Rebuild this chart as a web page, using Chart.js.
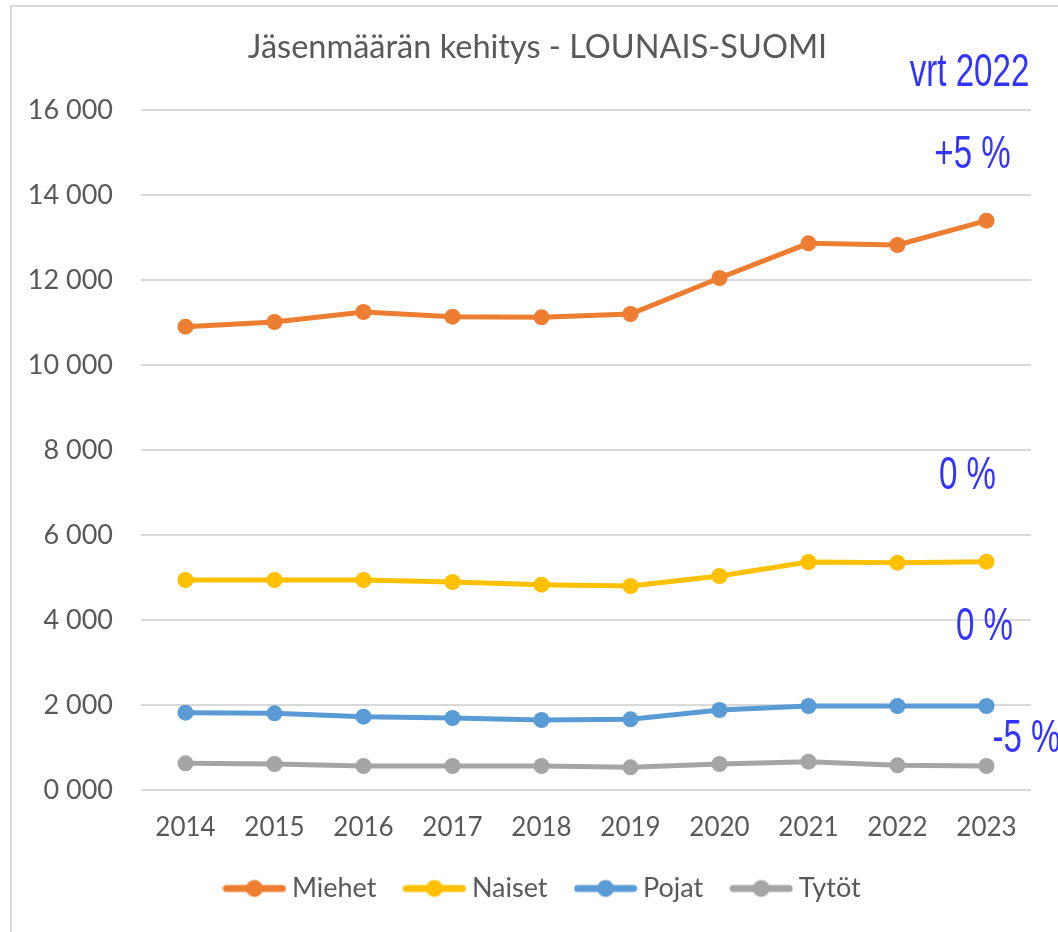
<!DOCTYPE html>
<html><head><meta charset="utf-8">
<script src="https://cdn.jsdelivr.net/npm/chart.js@4/dist/chart.umd.min.js"></script>
<style>
html,body{margin:0;padding:0;background:#fff;overflow:hidden;}
#wrap{position:absolute;left:0;top:0;width:1058px;height:932px;overflow:hidden;}
#frame{position:absolute;left:10px;top:5px;width:1200px;height:1200px;border:2px solid #d9d9d9;box-sizing:border-box;}
canvas{position:absolute;left:0;top:0;}
</style></head><body>
<div id="wrap"><div id="frame"></div><canvas id="c" width="1058" height="932"></canvas></div>
<script>
const categories = ['2014','2015','2016','2017','2018','2019','2020','2021','2022','2023'];
const miehet = [10902, 11012, 11247, 11137, 11122, 11200, 12047, 12863, 12824, 13396];
const naiset = [4941, 4941, 4941, 4894, 4831, 4800, 5035, 5365, 5349, 5373];
const pojat  = [1819, 1804, 1725, 1694, 1647, 1663, 1882, 1976, 1976, 1976];
const tytot  = [627, 612, 565, 565, 565, 533, 612, 667, 580, 565];
const yTickLabels = ['0 000','2 000','4 000','6 000','8 000','10 000','12 000','14 000','16 000'];
const seriesNames = ['Miehet','Naiset','Pojat','Tytöt'];
const titleText = 'Jäsenmäärän kehitys - LOUNAIS-SUOMI';
const noteTexts = ['vrt 2022','+5 %','0 %','0 %','-5 %'];
const noteValues = [16941, 15012, 7459, 3906, 1271];

const colors = ['#ED7D31','#FFC000','#5B9BD5','#A5A5A5'];
const seriesData = [miehet, naiset, pojat, tytot];

function makeLegendImg(color){
  const c = document.createElement('canvas'); c.width = 64; c.height = 20;
  const g = c.getContext('2d');
  g.strokeStyle = color; g.lineWidth = 7; g.lineCap = 'round';
  g.beginPath(); g.moveTo(4,10); g.lineTo(60,10); g.stroke();
  g.fillStyle = color; g.beginPath(); g.arc(32,10,8.5,0,Math.PI*2); g.fill();
  return c;
}
const legendImgs = colors.map(makeLegendImg);

const notesPlugin = {
  id: 'notes',
  afterDatasetsDraw(chart){
    const {ctx, scales:{x, y}} = chart;
    const x0 = x.getPixelForValue(categories.length - 1);
    const dx = [-17, -14, -19, -2, 40];
    ctx.save();
    ctx.fillStyle = '#3333ff';
    ctx.font = '46px "Liberation Sans", Arial, sans-serif';
    ctx.textAlign = 'center'; ctx.textBaseline = 'alphabetic';
    noteTexts.forEach((t, i) => {
      ctx.save();
      ctx.translate(x0 + dx[i], y.getPixelForValue(noteValues[i]) + 16);
      ctx.scale(0.72, 1);
      ctx.fillText(t, 0, 0);
      ctx.restore();
    });
    ctx.restore();
  }
};

const boxShiftPlugin = {
  id: 'boxShift',
  afterLayout(chart){
    if (chart.titleBlock) chart.titleBlock.left = 44;
    if (chart.legend) chart.legend.left = 60;
  }
};

function build(){
  new Chart(document.getElementById('c'), {
    type: 'line',
    data: {
      labels: categories,
      datasets: seriesData.map((d, i) => ({
        label: seriesNames[i], data: d,
        borderColor: colors[i], backgroundColor: colors[i],
        pointBackgroundColor: colors[i], pointBorderWidth: 0,
        pointRadius: 8, borderWidth: 5, tension: 0, fill: false
      }))
    },
    options: {
      responsive: false, animation: false, devicePixelRatio: 1,
      layout: {padding: {left: 12, right: 27, top: 0, bottom: 20}},
      plugins: {
        title: {display: true, text: titleText, color: '#595959',
          font: {family: 'Lato', size: 32.5, weight: 'normal', lineHeight: 1.2},
          padding: {top: 28, bottom: 43}},
        legend: {position: 'bottom', labels: {
          usePointStyle: true, pointStyleWidth: 48, padding: 34, color: '#595959',
          font: {family: 'Lato', size: 27},
          generateLabels: chart => chart.data.datasets.map((ds, i) => ({
            text: ds.label, pointStyle: legendImgs[i], fillStyle: ds.borderColor,
            strokeStyle: ds.borderColor, lineWidth: 0, hidden: false, datasetIndex: i, fontColor: '#595959'
          }))
        }},
        tooltip: {enabled: false}
      },
      scales: {
        x: {offset: true, grid: {display: false, drawTicks: false}, border: {display: false},
          ticks: {color: '#595959', font: {family: 'Lato', size: 26}, padding: 22, maxRotation: 0},
          afterFit(s){ s.height = 51; }},
        y: {min: 0, max: 16000,
          ticks: {stepSize: 2000, padding: 28, color: '#595959', font: {family: 'Lato', size: 27},
            callback: (v, i) => yTickLabels[i]},
          grid: {color: '#d9d9d9', lineWidth: 2, drawTicks: false}, border: {display: false},
          afterFit(s){ s.width = 129; }}
      }
    },
    plugins: [notesPlugin, boxShiftPlugin]
  });
}
Promise.all([
  document.fonts.load('26px Lato'), document.fonts.load('46px "Liberation Sans"')
]).then(build, build);
</script>
</body></html>
